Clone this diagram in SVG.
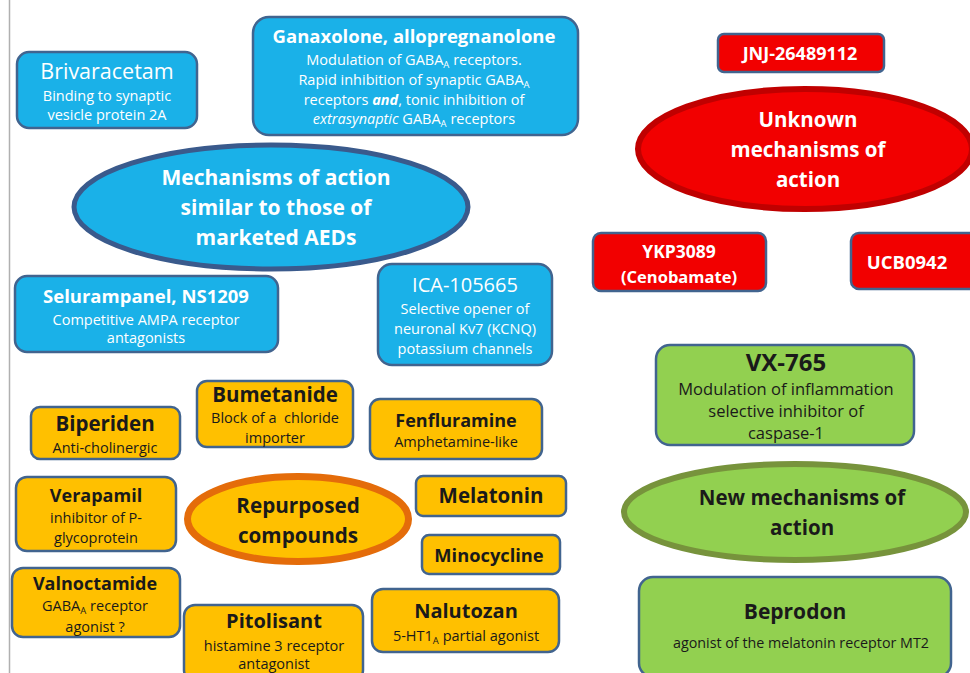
<svg xmlns="http://www.w3.org/2000/svg" width="970" height="673" viewBox="0 0 970 673">
<style>
text{font-family:"Open Sans","Noto Sans","Liberation Sans",sans-serif;text-anchor:middle}
.bx{stroke:#41648f;stroke-width:2.5}
.blue{fill:#1ab1e8}
.red{fill:#f20000}
.grn{fill:#92d050}
.org{fill:#ffc000}
.w{fill:#fff}
.d{fill:#1a1a1a}
.b{font-weight:bold}
.s{font-size:14.5px}
.sub{font-size:9.5px}
</style>
<rect width="970" height="673" fill="#fff"/>
<line x1="9.5" y1="0" x2="9.5" y2="673" stroke="#b0b0b0" stroke-width="1.5"/>
<g id="connectors"></g>

<g id="brivaracetam">
<rect class="bx blue" x="17" y="52" width="180" height="76" rx="12"/>
<text class="w" x="107" y="79" font-size="21.5">Brivaracetam</text>
<text class="w s" x="107" y="101">Binding to synaptic</text>
<text class="w s" x="107" y="120">vesicle protein 2A</text>
</g>
<g id="ganaxolone">
<rect class="bx blue" x="253" y="17" width="325" height="118" rx="16"/>
<text class="w b" x="414" y="43" font-size="18.5">Ganaxolone, allopregnanolone</text>
<text class="w s" x="414" y="65">Modulation of GABA<tspan class="sub" dy="2.5">A</tspan><tspan dy="-2.5"> receptors.</tspan></text>
<text class="w s" x="414" y="85">Rapid inhibition of synaptic GABA<tspan class="sub" dy="2.5">A</tspan></text>
<text class="w s" x="414" y="105">receptors <tspan font-style="italic" font-weight="bold">and</tspan>, tonic inhibition of</text>
<text class="w s" x="414" y="124"><tspan font-style="italic">extrasynaptic</tspan> GABA<tspan class="sub" dy="2.5">A</tspan><tspan dy="-2.5"> receptors</tspan></text>
</g>
<g id="similar">
<ellipse cx="271" cy="207" rx="197" ry="62" fill="#1ab1e8" stroke="#3a5a8c" stroke-width="5"/>
<text class="w b" x="276" y="185" font-size="21">Mechanisms of action</text>
<text class="w b" x="276" y="215" font-size="21">similar to those of</text>
<text class="w b" x="276" y="245" font-size="21">marketed AEDs</text>
</g>
<g id="selurampanel">
<rect class="bx blue" x="15" y="276" width="263" height="76" rx="12"/>
<text class="w b" x="146" y="303" font-size="18.5">Selurampanel, NS1209</text>
<text class="w s" x="146" y="325">Competitive AMPA receptor</text>
<text class="w s" x="146" y="343">antagonists</text>
</g>
<g id="ica">
<rect class="bx blue" x="378" y="264" width="174" height="101" rx="14"/>
<text class="w" x="465" y="292" font-size="20">ICA-105665</text>
<text class="w s" x="465" y="314">Selective opener of</text>
<text class="w s" x="465" y="334">neuronal Kv7 (KCNQ)</text>
<text class="w s" x="465" y="354">potassium channels</text>
</g>

<g id="jnj">
<rect class="bx red" x="718" y="34" width="166" height="38" rx="6"/>
<text class="w b" x="800" y="60" font-size="18">JNJ-26489112</text>
</g>
<g id="unknown">
<ellipse cx="805" cy="149" rx="167" ry="60" fill="#f20000" stroke="#c00000" stroke-width="6"/>
<text class="w b" x="808" y="127" font-size="20.5">Unknown</text>
<text class="w b" x="808" y="157" font-size="20.5">mechanisms of</text>
<text class="w b" x="808" y="187" font-size="20.5">action</text>
</g>
<g id="ykp">
<rect class="bx red" x="593" y="233" width="173" height="58" rx="8"/>
<text class="w b" x="679" y="258" font-size="17.5">YKP3089</text>
<text class="w b" x="679" y="283" font-size="16.5">(Cenobamate)</text>
</g>
<g id="ucb">
<rect class="bx red" x="851" y="233" width="130" height="56" rx="8"/>
<text class="w b" x="907" y="269" font-size="18.5">UCB0942</text>
</g>

<g id="vx765">
<rect class="bx grn" x="656" y="345" width="258" height="100" rx="14"/>
<text class="d b" x="786" y="371" font-size="24">VX-765</text>
<text class="d" x="786" y="395" font-size="16.5">Modulation of inflammation</text>
<text class="d" x="786" y="417" font-size="16.5">selective inhibitor of</text>
<text class="d" x="786" y="439" font-size="16.5">caspase-1</text>
</g>
<g id="newmech">
<ellipse cx="795" cy="512" rx="171" ry="48" fill="#92d050" stroke="#77933c" stroke-width="6"/>
<text class="d b" x="802" y="505" font-size="20.5">New mechanisms of</text>
<text class="d b" x="802" y="535" font-size="20.5">action</text>
</g>
<g id="beprodon">
<rect class="bx grn" x="639" y="577" width="312" height="100" rx="14"/>
<text class="d b" x="795" y="619" font-size="21">Beprodon</text>
<text class="d" x="801" y="648" font-size="14.3">agonist of the melatonin receptor MT2</text>
</g>

<g id="biperiden">
<rect class="bx org" x="31" y="407" width="149" height="52" rx="9"/>
<text class="d b" x="105" y="431" font-size="20.5">Biperiden</text>
<text class="d s" x="105" y="453">Anti-cholinergic</text>
</g>
<g id="bumetanide">
<rect class="bx org" x="197" y="381" width="156" height="66" rx="10"/>
<text class="d b" x="275" y="402" font-size="20.5">Bumetanide</text>
<text class="d s" x="275" y="423" style="white-space:pre">Block of a  chloride</text>
<text class="d s" x="275" y="443">importer</text>
</g>
<g id="fenfluramine">
<rect class="bx org" x="370" y="399" width="172" height="60" rx="10"/>
<text class="d b" x="456" y="427" font-size="18">Fenfluramine</text>
<text class="d s" x="456" y="447">Amphetamine-like</text>
</g>
<g id="verapamil">
<rect class="bx org" x="16" y="477" width="160" height="74" rx="11"/>
<text class="d b" x="96" y="502" font-size="18">Verapamil</text>
<text class="d s" x="96" y="523">inhibitor of P-</text>
<text class="d s" x="96" y="543">glycoprotein</text>
</g>
<g id="repurposed">
<ellipse cx="298" cy="519" rx="110.5" ry="42.5" fill="#ffc000" stroke="#e46c0a" stroke-width="7"/>
<text class="d b" x="298" y="513" font-size="20.7">Repurposed</text>
<text class="d b" x="298" y="543" font-size="20.7">compounds</text>
</g>
<g id="melatonin">
<rect class="bx org" x="416" y="476" width="150" height="40" rx="7"/>
<text class="d b" x="491" y="503" font-size="20.5">Melatonin</text>
</g>
<g id="minocycline">
<rect class="bx org" x="422" y="535" width="138" height="39" rx="7"/>
<text class="d b" x="489" y="562" font-size="18.3">Minocycline</text>
</g>
<g id="valnoctamide">
<rect class="bx org" x="12" y="568" width="168" height="69" rx="11"/>
<text class="d b" x="95" y="590" font-size="18">Valnoctamide</text>
<text class="d s" x="95" y="611">GABA<tspan class="sub" dy="2.5">A</tspan><tspan dy="-2.5"> receptor</tspan></text>
<text class="d s" x="95" y="632">agonist ?</text>
</g>
<g id="pitolisant">
<rect class="bx org" x="184" y="605" width="179" height="76" rx="11"/>
<text class="d b" x="274" y="628" font-size="20">Pitolisant</text>
<text class="d s" x="274" y="651">histamine 3 receptor</text>
<text class="d s" x="274" y="669">antagonist</text>
</g>
<g id="nalutozan">
<rect class="bx org" x="372" y="589" width="187" height="63" rx="11"/>
<text class="d b" x="466" y="618" font-size="20">Nalutozan</text>
<text class="d s" x="466" y="641">5-HT1<tspan class="sub" dy="2.5">A</tspan><tspan dy="-2.5"> partial agonist</tspan></text>
</g>
</svg>
